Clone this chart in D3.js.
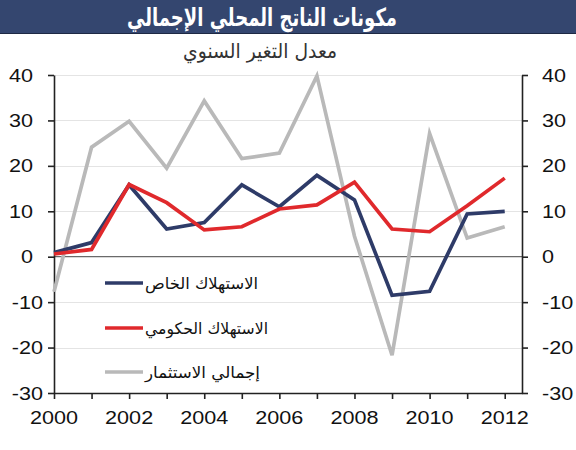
<!DOCTYPE html>
<html>
<head>
<meta charset="utf-8">
<script src="https://cdn.jsdelivr.net/npm/d3@7"></script>
<style>
  body { margin: 0; background: #fff; }
  svg { display: block; }
  .num { font-family: "Liberation Sans", Arial, sans-serif; font-size: 18px; fill: #111; }
  .ar { font-family: "DejaVu Sans", "Liberation Sans", sans-serif; }
</style>
</head>
<body>
<div class="chart"></div>
<script>
// GDP components, annual change (%)

var years = [2000, 2001, 2002, 2003, 2004, 2005, 2006, 2007, 2008, 2009, 2010, 2011, 2012];
var privateCons = [0.9, 3.1, 15.8, 6.1, 7.5, 15.8, 11.0, 17.9, 12.5, -8.5, -7.6, 9.4, 10.0];
var govCons = [0.6, 1.6, 15.9, 11.9, 5.9, 6.6, 10.5, 11.4, 16.4, 6.1, 5.5, 11.2, 17.3];
var investment = [-7.7, 24.1, 29.8, 19.5, 34.3, 21.6, 22.8, 39.8, 4.5, -21.7, 27.1, 4.1, 6.6];

var seriesNames = ["الاستهلاك الخاص", "الاستهلاك الحكومي", "إجمالي الاستثمار"];
var seriesColors = ["#2e3b68", "#e0292c", "#b9b9b9"];
var yTicks = [-30, -20, -10, 0, 10, 20, 30, 40];
var xLabelYears = [2000, 2002, 2004, 2006, 2008, 2010, 2012];

var titleText = "مكونات الناتج المحلي الإجمالي";
var subtitleText = "معدل التغير السنوي";

var svgWidth = 576;
var svgHeight = 450;
var margin = { top: 75, right: 54, bottom: 57, left: 54 };
var width = svgWidth - margin.left - margin.right;
var height = svgHeight - margin.top - margin.bottom;

var svg = d3.select(".chart")
  .append("svg")
  .attr("width", svgWidth)
  .attr("height", svgHeight);

// title bar
svg.append("rect")
  .attr("x", 0).attr("y", 0)
  .attr("width", svgWidth).attr("height", 33)
  .attr("fill", "#34466f");
svg.append("line")
  .attr("x1", 0).attr("x2", svgWidth)
  .attr("y1", 33.5).attr("y2", 33.5)
  .attr("stroke", "#1e2944").attr("stroke-width", 1);

// DejaVu arabic is wider than the original font, so squeeze it to the same width
svg.append("text")
  .attr("class", "ar")
  .attr("x", 262).attr("y", 26)
  .attr("text-anchor", "middle")
  .attr("fill", "#fff")
  .attr("font-weight", "bold")
  .attr("font-size", 25)
  .attr("textLength", 270)
  .attr("lengthAdjust", "spacingAndGlyphs")
  .text(titleText);

svg.append("text")
  .attr("class", "ar")
  .attr("x", 260).attr("y", 58)
  .attr("text-anchor", "middle")
  .attr("fill", "#333")
  .attr("font-size", 20)
  .attr("textLength", 154)
  .attr("lengthAdjust", "spacingAndGlyphs")
  .text(subtitleText);

var chart = svg.append("g")
  .attr("transform", "translate(" + margin.left + "," + margin.top + ")");

var xScale = d3.scaleLinear()
  .domain([2000, 2012.46])
  .range([0, width]);

var yScale = d3.scaleLinear()
  .domain([-30, 40])
  .range([height, 0]);

// gridlines
chart.append("g")
  .selectAll("line")
  .data(yTicks.filter(function(d) { return d !== 0 && d !== -30; }))
  .enter().append("line")
    .attr("x1", 0).attr("x2", width)
    .attr("y1", function(d) { return Math.round(yScale(d)) + 0.5; })
    .attr("y2", function(d) { return Math.round(yScale(d)) + 0.5; })
    .attr("stroke", "#e4e4e4")
    .attr("stroke-width", 1);

// zero line
chart.append("line")
  .attr("x1", 0).attr("x2", width)
  .attr("y1", yScale(0)).attr("y2", yScale(0))
  .attr("stroke", "#444")
  .attr("stroke-width", 1);

// axes (lines and ticks only, labels drawn below)
var leftAxis = d3.axisLeft(yScale).tickValues(yTicks).tickSize(6).tickSizeOuter(0).tickFormat("");
var rightAxis = d3.axisRight(yScale).tickValues(yTicks).tickSize(6).tickSizeOuter(0).tickFormat("");
var bottomAxis = d3.axisBottom(xScale).tickValues(years).tickSize(6).tickSizeOuter(0).tickFormat("");

chart.append("g").attr("class", "axis").call(leftAxis);
chart.append("g").attr("class", "axis")
  .attr("transform", "translate(" + width + ",0)")
  .call(rightAxis);
chart.append("g").attr("class", "axis")
  .attr("transform", "translate(0," + height + ")")
  .call(bottomAxis);

chart.selectAll(".axis path, .axis line")
  .attr("stroke", "#222")
  .attr("stroke-width", 1.6);

// y labels, left side (negatives sit further right, like the original)
chart.append("g")
  .selectAll("text")
  .data(yTicks)
  .enter().append("text")
    .attr("class", "num")
    .attr("text-anchor", "end")
    .attr("transform", function(d) {
      var x = d < 0 ? -11 : -21;
      return "translate(" + x + "," + (yScale(d) + 6.5) + ") scale(1.2,1)";
    })
    .text(function(d) { return d; });

// y labels, right side
chart.append("g")
  .selectAll("text")
  .data(yTicks)
  .enter().append("text")
    .attr("class", "num")
    .attr("text-anchor", "start")
    .attr("transform", function(d) {
      return "translate(" + (width + 20) + "," + (yScale(d) + 6.5) + ") scale(1.2,1)";
    })
    .text(function(d) { return d; });

// x labels
chart.append("g")
  .selectAll("text")
  .data(xLabelYears)
  .enter().append("text")
    .attr("class", "num")
    .attr("text-anchor", "middle")
    .attr("transform", function(d) {
      return "translate(" + xScale(d) + "," + (height + 31) + ") scale(1.2,1)";
    })
    .text(function(d) { return d; });

// series lines
var seriesData = [privateCons, govCons, investment];
var line = d3.line()
  .x(function(d, i) { return xScale(years[i]); })
  .y(function(d) { return yScale(d); });

var drawOrder = [2, 0, 1];
drawOrder.forEach(function(k) {
  chart.append("path")
    .datum(seriesData[k])
    .attr("fill", "none")
    .attr("stroke", seriesColors[k])
    .attr("stroke-width", 3.7)
    .attr("stroke-linejoin", "miter")
    .attr("d", line);
});

// legend
var legendY = [283, 328, 372];
var legendWidths = [113, 123, 115];
var legend = svg.append("g");
seriesNames.forEach(function(name, i) {
  legend.append("line")
    .attr("x1", 105).attr("x2", 143)
    .attr("y1", legendY[i]).attr("y2", legendY[i])
    .attr("stroke", seriesColors[i])
    .attr("stroke-width", 3.7);
  legend.append("text")
    .attr("class", "ar")
    .attr("x", 145)
    .attr("y", legendY[i] + 6)
    .attr("direction", "rtl")
    .attr("text-anchor", "end")
    .attr("font-size", 16)
    .attr("fill", "#111")
    .attr("textLength", legendWidths[i])
    .attr("lengthAdjust", "spacingAndGlyphs")
    .text(name);
});
</script>
</body>
</html>
